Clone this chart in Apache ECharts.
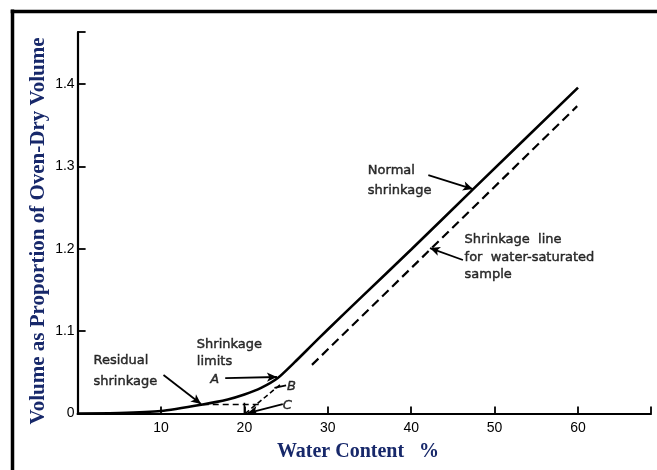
<!DOCTYPE html>
<html><head><meta charset="utf-8">
<script src="https://cdn.jsdelivr.net/npm/echarts@6/dist/echarts.min.js"></script>
<style>html,body{margin:0;padding:0;background:#fff}#c{width:657px;height:470px}</style>
</head><body><div id="c"></div>
<script>
// ---- data ----
const xTicks = [10, 20, 30, 40, 50, 60];
const yTickLabels = ['0', '1.1', '1.2', '1.3', '1.4'];
const normalX = [0, 5, 10, 15, 18, 20, 22, 24, 26, 28, 30, 34, 40, 47.4, 60];
const normalY = [1.000, 1.0005, 1.003, 1.011, 1.017, 1.023, 1.031, 1.043, 1.062, 1.082, 1.102, 1.141, 1.199, 1.272, 1.3955];
const saturatedX = [28.1, 59.9];
const saturatedY = [1.059, 1.373];
const residualDashX = [15, 22];
const residualDashY = [1.011, 1.011];
const limitDashX = [20.1, 24.3];
const limitDashY = [1.0, 1.035];
const limitTickX = [20, 20];
const limitTickY = [1.0, 1.013];
const notes = [
  {t: 'Normal\nshrinkage', x: 34.8, y: 1.283, lh: 20},
  {t: 'Shrinkage  line\nfor  water-saturated\nsample', x: 46.4, y: 1.1895, lh: 17.5},
  {t: 'Residual\nshrinkage', x: 1.9, y: 1.052, lh: 21},
  {t: 'Shrinkage\nlimits', x: 14.3, y: 1.073, lh: 17},
  {t: 'A', x: 15.9, y: 1.041, lh: 14},
  {t: 'B', x: 25.1, y: 1.033, lh: 14},
  {t: 'C', x: 24.6, y: 1.010, lh: 14}
];
const arrows = [
  [[42.05, 1.2894], [47.4, 1.2724]],
  [[46.2, 1.1863], [42.25, 1.2008]],
  [[10.3, 1.0467], [14.8, 1.0115]],
  [[17.7, 1.043], [23.9, 1.0443]],
  [[24.6, 1.0115], [20.4, 1.0006]]
];
const leaders = [
  [[25.0, 1.034], [23.6, 1.031]]
];

const zip = (a, b) => a.map((v, i) => [v, b[i]]);
const chart = echarts.init(document.getElementById('c'));
const annoFont = {fontFamily: 'DejaVu Sans', fontSize: 13, color: '#000', textBorderColor: '#000', textBorderWidth: 0.45};
chart.setOption({
  animation: false,
  grid: {left: 77.6, right: 6, top: 32, bottom: 56.5},
  xAxis: {
    type: 'value', min: 0, max: 68.75, interval: 10,
    axisLine: {lineStyle: {color: '#000', width: 2.2}},
    axisTick: {inside: true, length: 7, lineStyle: {color: '#000', width: 1.8}},
    axisLabel: {fontFamily: 'Liberation Sans', fontSize: 14, color: '#000', margin: 8,
      formatter: v => xTicks.includes(v) ? String(v) : ''},
    splitLine: {show: false}
  },
  yAxis: {
    type: 'value', min: 1.0, max: 1.463, interval: 0.1,
    axisLine: {show: true, lineStyle: {color: '#000', width: 2.2}},
    axisTick: {show: true, inside: true, length: 8, lineStyle: {color: '#000', width: 1.8}},
    axisLabel: {fontFamily: 'Liberation Sans', fontSize: 14, color: '#000', margin: 3,
      formatter: v => { const i = Math.round((v - 1.0) * 10); return yTickLabels[i] || ''; }},
    splitLine: {show: false}
  },
  graphic: [
    {type: 'line', shape: {x1: 12.5, y1: 9.5, x2: 12.5, y2: 470}, style: {stroke: '#000', lineWidth: 3.5}},
    {type: 'line', shape: {x1: 10.7, y1: 11.5, x2: 657, y2: 11.5}, style: {stroke: '#000', lineWidth: 3.5}},
    {type: 'text', x: 39, y: 231, rotation: Math.PI / 2, style: {
      text: 'Volume as Proportion of Oven-Dry Volume', x: 0, y: 0, align: 'center', verticalAlign: 'middle',
      font: 'bold 21px "Liberation Serif"', fill: '#17286a'}},
    {type: 'text', x: 358, y: 452, style: {
      text: 'Water Content   %', x: 0, y: 0, align: 'center', verticalAlign: 'middle',
      font: 'bold 20px "Liberation Serif"', fill: '#17286a'}}
  ],
  series: [
    {type: 'line', data: zip(normalX, normalY), smooth: 0.2, symbol: 'none',
      lineStyle: {color: '#000', width: 2.6},
      markLine: {silent: true, symbol: ['none', 'arrow'], symbolSize: [7, 10], label: {show: false},
        lineStyle: {color: '#000', width: 1.8, type: 'solid'},
        data: arrows.map(a => [{coord: a[0]}, {coord: a[1]}]).concat(
          leaders.map(a => [{coord: a[0], symbol: 'none'}, {coord: a[1], symbol: 'none'}]))}},
    {type: 'line', data: zip(saturatedX, saturatedY), symbol: 'none',
      lineStyle: {color: '#000', width: 2.2, type: [9, 5]}},
    {type: 'line', data: zip(residualDashX, residualDashY), symbol: 'none',
      lineStyle: {color: '#000', width: 1.6, type: [6, 4]}},
    {type: 'line', data: zip(limitDashX, limitDashY), symbol: 'none',
      lineStyle: {color: '#000', width: 1.6, type: [5, 3]}},
    {type: 'line', data: zip(limitTickX, limitTickY), symbol: 'none',
      lineStyle: {color: '#000', width: 1.6}},
    {type: 'scatter', symbolSize: 0, silent: true,
      data: notes.map(n => ({value: [n.x, n.y], label: {show: true, formatter: n.t, position: [0, 0],
        align: 'left', verticalAlign: 'middle', lineHeight: n.lh,
        fontStyle: n.t.length === 1 ? 'italic' : 'normal', ...annoFont}}))}
  ]
});
</script></body></html>
